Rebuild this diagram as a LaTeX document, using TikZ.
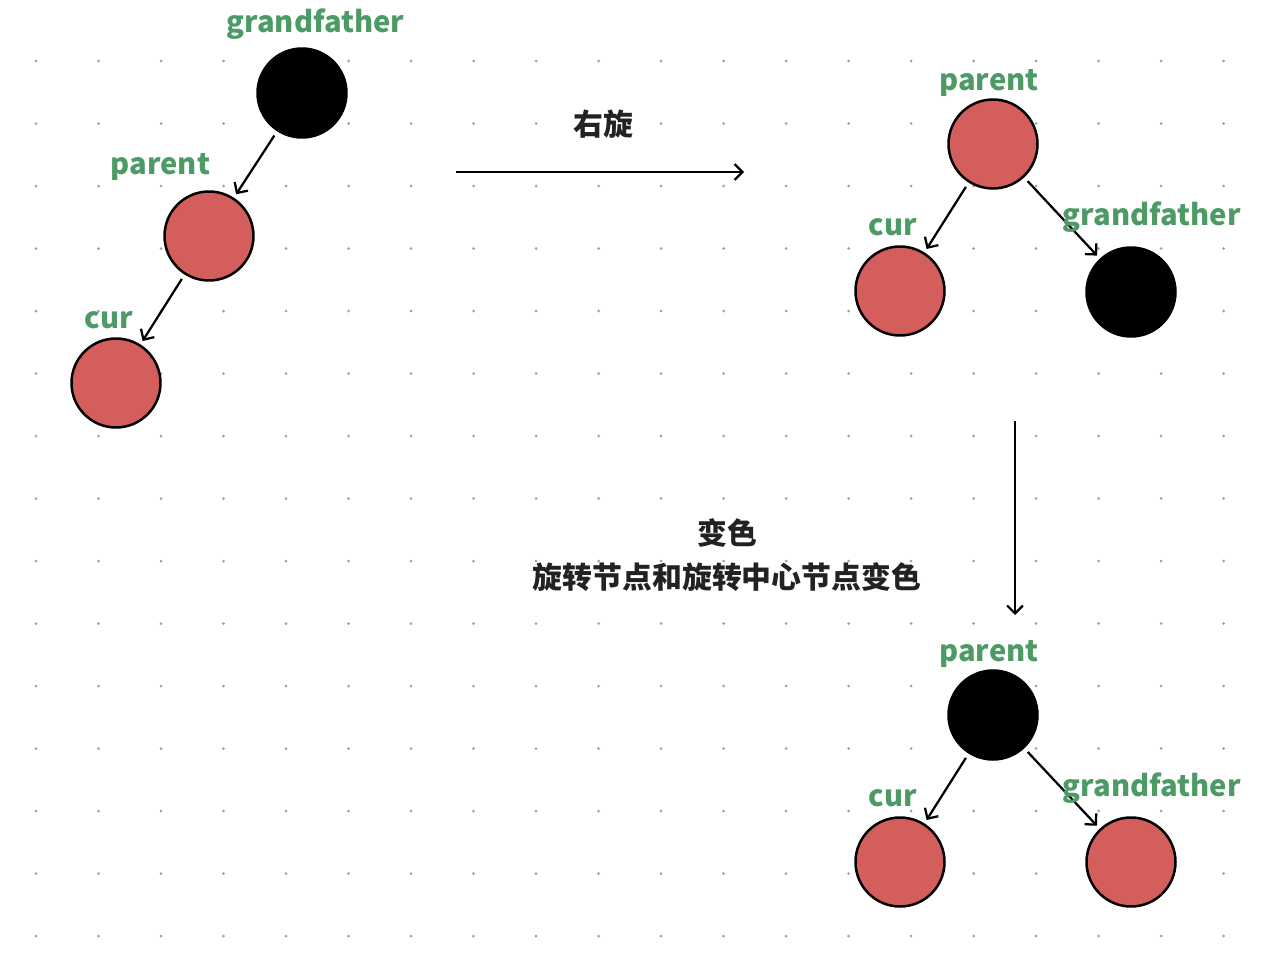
\documentclass[tikz,border=0pt]{standalone}
\usepackage{fontspec}
\setmainfont{Noto Sans CJK SC}
\newfontfamily\cjk{Noto Sans CJK SC}
\usetikzlibrary{arrows.meta, calc}
\definecolor{treeRed}{HTML}{D35E5C}
\definecolor{tagGreen}{HTML}{4E9A67}
\definecolor{gridDot}{HTML}{9AA1AD}
\definecolor{inkDark}{HTML}{222222}

\begin{document}
\begin{tikzpicture}[
  x=0.02cm, y=-0.02cm,
  >={Straight Barb[length=4.5pt,width=9pt]},
  rednode/.style={circle, draw=black, line width=0.05cm, fill=treeRed,
                  minimum size=1.78cm, inner sep=0pt},
  blacknode/.style={rednode, fill=black},
  tag/.style={text=tagGreen, font=\cjk\fontsize{16.6}{19}\selectfont\bfseries,
              anchor=base, inner sep=0pt},
  note/.style={text=inkDark, font=\cjk\fontsize{17}{25}\selectfont\bfseries,
               align=center, inner sep=0pt},
  flow/.style={->, line width=0.045cm},
  link/.style={flow, shorten <=0.1cm, shorten >=0.08cm}
]
\useasboundingbox (0,0) rectangle (1261,960);
\fill[white] (0,0) rectangle (1261,960);

% dot grid
\foreach \i in {0,...,19}
  \foreach \j in {0,...,14}
    \fill[gridDot] (36+62.5*\i, 61+62.5*\j) circle (0.03cm);

% before rotation
\node[blacknode] (gfL) at (302,93) {};
\node[rednode] (parL) at (209,236) {};
\node[rednode] (curL) at (116,383) {};
\draw[link] (gfL) -- (parL);
\draw[link] (parL) -- (curL);
\node[tag] (gfLtag) at (315.5,32) {grandfather};
\node[tag] (parLtag) at (160.5,174) {parent};
\node[tag] (curLtag) at (109,328) {cur};

% rotate right
\coordinate (rotFrom) at (456,172);
\coordinate (rotTo) at (744,172);
\draw[flow] (rotFrom) -- (rotTo);
\node[note] (rotNote) at (603,124) {右旋};

% after rotation
\node[rednode] (parR) at (993,144) {};
\node[rednode] (curR) at (900,291) {};
\node[blacknode] (gfR) at (1131,292) {};
\draw[link] (parR) -- (curR);
\draw[link] (parR) -- (gfR);
\node[tag] (parRtag) at (989,90) {parent};
\node[tag] (curRtag) at (893,235) {cur};
\node[tag] (gfRtag) at (1151.7,225) {grandfather};

% recolour
\coordinate (colFrom) at (1015,421);
\coordinate (colTo) at (1015,615);
\draw[flow] (colFrom) -- (colTo);
\node[note] (colNote) at (727,555) {变色\\旋转节点和旋转中心节点变色};

% after recolouring
\node[blacknode] (parB) at (993,715) {};
\node[rednode] (curB) at (900,862) {};
\node[rednode] (gfB) at (1131,862) {};
\draw[link] (parB) -- (curB);
\draw[link] (parB) -- (gfB);
\node[tag] (parBtag) at (989,661) {parent};
\node[tag] (curBtag) at (893,806) {cur};
\node[tag] (gfBtag) at (1151.7,796) {grandfather};
\end{tikzpicture}
\end{document}
